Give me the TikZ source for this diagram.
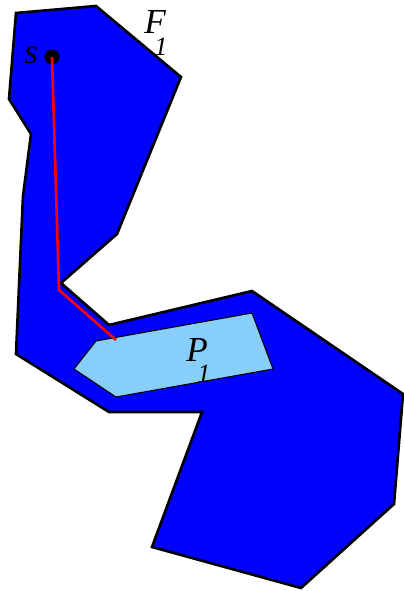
\documentclass[tikz,border=0pt]{standalone}
\usepackage{fontspec}
\setmainfont{Liberation Serif}
\usepackage{tikz}
\usetikzlibrary{positioning}
\definecolor{fsBlue}{RGB}{0,0,255}
\definecolor{fsLight}{RGB}{135,206,250}
\definecolor{fsRed}{RGB}{255,0,0}

\begin{document}
\begin{tikzpicture}[
    x=0.02cm, y=-0.02cm,
    free/.style={draw=black, line width=1.5pt, fill=fsBlue, line join=miter},
    hole/.style={draw=black, line width=0.6pt, fill=fsLight},
    route/.style={draw=fsRed, line width=1.5pt},
    lbl/.style={font=\fontsize{20}{22}\selectfont\itshape, inner sep=0pt, anchor=base west},
    sub/.style={font=\fontsize{15}{15}\selectfont\itshape, inner sep=0pt, anchor=north west}
  ]
  \useasboundingbox (0,0) rectangle (404,591);
  % free space F_1
  \draw[free] (16,13) -- (96,6) -- (181,77) -- (117,234) -- (61,283) -- (109,325)
       -- (252,291) -- (403,394) -- (394,504) -- (301,588) -- (152,547) -- (202,412)
       -- (109,412) -- (16,354) -- (23,196) -- (31,134) -- (9,99) -- cycle;
  % obstacle P_1
  \draw[hole] (96,341) -- (252,313) -- (273,369) -- (116,397) -- (74,369) -- cycle;

  % start point and path
  \node[circle, fill=black, inner sep=0pt, minimum size=0.3cm] (s) at (52,57) {};
  \coordinate (bend) at (59,290);
  \coordinate (hit) at (116,340);
  \draw[route] (s.center) -- (bend) -- (hit);

  % labels
  \node[lbl] (slbl) at (24,64) {s};
  \node[lbl] (flbl) at (144,34) {F};
  \node[sub] (fsub) at (154,38) {1};
  \node[lbl] (plbl) at (186,361) {P};
  \node[sub] (psub) at (197,365) {1};
\end{tikzpicture}
\end{document}
